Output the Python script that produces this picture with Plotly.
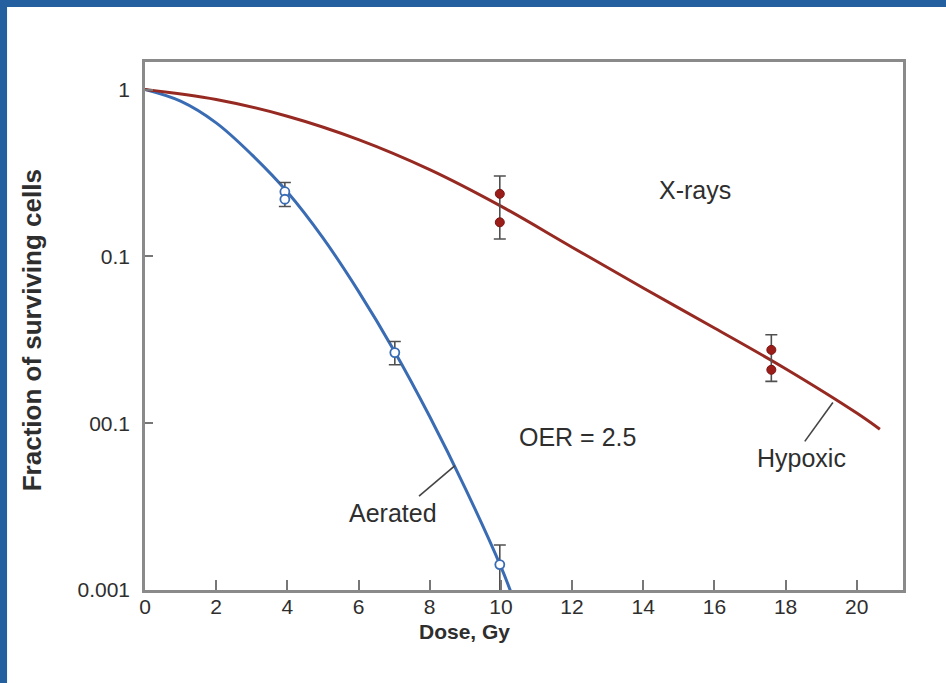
import plotly.graph_objects as go

# Fitted survival curves (dose in Gy, surviving fraction)
aerated_dose = [0, 1, 2, 3, 4, 5, 6, 7, 8, 9, 10, 10.3]
aerated_frac = [1.0, 0.851, 0.631, 0.407, 0.243, 0.129, 0.0617, 0.0272, 0.01096, 0.00407, 0.00138, 0.00095]

hypoxic_dose = [0, 2, 4, 6, 8, 10, 12, 14, 16, 18, 20, 20.65]
hypoxic_frac = [1.0, 0.871, 0.692, 0.501, 0.331, 0.200, 0.1135, 0.0646, 0.0372, 0.0212, 0.0115, 0.0092]

# Measured points
aerated_pts_dose = [3.93, 3.93, 7.02, 9.97]
aerated_pts_frac = [0.244, 0.220, 0.0265, 0.00142]
hypoxic_pts_dose = [9.97, 9.97, 17.6, 17.6]
hypoxic_pts_frac = [0.237, 0.160, 0.0275, 0.0209]

# Error-bar extents per dose group (low, high)
aerated_err_dose = [3.93, 7.02, 9.97]
aerated_err_low = [0.199, 0.0224, 0.0008]
aerated_err_high = [0.277, 0.0309, 0.00186]
hypoxic_err_dose = [9.97, 17.6]
hypoxic_err_low = [0.127, 0.0178]
hypoxic_err_high = [0.303, 0.0339]

# Leader lines for curve labels
aerated_leader_dose = [7.70, 8.71]
aerated_leader_frac = [0.00365, 0.00557]
hypoxic_leader_dose = [18.54, 19.33]
hypoxic_leader_frac = [0.00778, 0.01330]

x_ticks = list(range(0, 21, 2))
y_tickvals = [1, 0.1, 0.01, 0.001]
y_ticktext = ["1", "0.1", "00.1", "0.001"]

BLUE = "#3a6cb4"
RED = "#962a22"
ERR = "#505050"
TXT = "#2e2e2e"
FONT = "Liberation Sans, Arial, sans-serif"

fig = go.Figure()

fig.add_trace(go.Scatter(x=aerated_dose, y=aerated_frac, mode="lines",
                         line=dict(color=BLUE, width=3, shape="spline", smoothing=1),
                         hoverinfo="skip", showlegend=False))
fig.add_trace(go.Scatter(x=hypoxic_dose, y=hypoxic_frac, mode="lines",
                         line=dict(color=RED, width=3, shape="spline", smoothing=1),
                         hoverinfo="skip", showlegend=False))

# error bars drawn from low to high with caps at both ends
for d, lo, hi in [(aerated_err_dose, aerated_err_low, aerated_err_high),
                  (hypoxic_err_dose, hypoxic_err_low, hypoxic_err_high)]:
    fig.add_trace(go.Scatter(
        x=d, y=lo, mode="markers", marker=dict(size=1, opacity=0),
        error_y=dict(type="data", symmetric=False,
                     array=[h - l for h, l in zip(hi, lo)],
                     arrayminus=[0] * len(lo),
                     color=ERR, thickness=1.6, width=6),
        hoverinfo="skip", showlegend=False))

fig.add_trace(go.Scatter(x=aerated_pts_dose, y=aerated_pts_frac, mode="markers",
                         marker=dict(size=9, color="white", line=dict(color=BLUE, width=1.8)),
                         showlegend=False))
fig.add_trace(go.Scatter(x=hypoxic_pts_dose, y=hypoxic_pts_frac, mode="markers",
                         marker=dict(size=9, color="#9b1d1a", line=dict(color="#7a1512", width=1)),
                         showlegend=False))

for d, f in [(aerated_leader_dose, aerated_leader_frac), (hypoxic_leader_dose, hypoxic_leader_frac)]:
    fig.add_trace(go.Scatter(x=d, y=f, mode="lines", line=dict(color="#444444", width=1.6),
                             hoverinfo="skip", showlegend=False))

ann = [
    dict(text="X-rays", x=14.38, y=-0.602, xanchor="left"),
    dict(text="OER = 2.5", x=10.45, y=-2.081, xanchor="left"),
    dict(text="Aerated", x=6.97, y=-2.536, xanchor="center"),
    dict(text="Hypoxic", x=18.45, y=-2.207, xanchor="center"),
]
for a in ann:
    a.update(xref="x", yref="y", yanchor="middle", showarrow=False,
             font=dict(family=FONT, size=25, color=TXT))
ann.append(dict(text="<b>Dose, Gy</b>", x=0.422, y=-0.0795, xref="paper", yref="paper",
                xanchor="center", yanchor="middle", showarrow=False,
                font=dict(family=FONT, size=21, color=TXT)))
ann.append(dict(text="<b>Fraction of surviving cells</b>", x=-0.149, y=0.492,
                xref="paper", yref="paper", xanchor="center", yanchor="middle",
                textangle=-90, showarrow=False,
                font=dict(family=FONT, size=26, color=TXT)))

fig.update_layout(
    width=946, height=683,
    margin=dict(l=145, r=43, t=62, b=93),
    paper_bgcolor="#2460a0",
    plot_bgcolor="white",
    annotations=ann,
    shapes=[dict(type="rect", xref="paper", yref="paper",
                 x0=-0.182, x1=1.06, y0=-0.18, y1=1.104,
                 fillcolor="white", line=dict(width=0), layer="below")],
    xaxis=dict(range=[0, 21.3], tickvals=x_ticks, ticks="inside", ticklen=10,
               tickcolor="#777777", tickwidth=1.5,
               showgrid=False, zeroline=False, showline=True, linecolor="#8a8a8a",
               linewidth=2.5, mirror=True, ticklabelstandoff=-4,
               tickfont=dict(family=FONT, size=21, color=TXT)),
    yaxis=dict(type="log", range=[-3, 0.165], tickvals=y_tickvals, ticktext=y_ticktext,
               ticks="inside", ticklen=8, tickcolor="#777777", tickwidth=1.5,
               showgrid=False, zeroline=False, showline=True, linecolor="#8a8a8a",
               linewidth=2.5, mirror=True, ticklabelstandoff=8,
               tickfont=dict(family=FONT, size=21, color=TXT)),
)

fig.write_html("out.html")
